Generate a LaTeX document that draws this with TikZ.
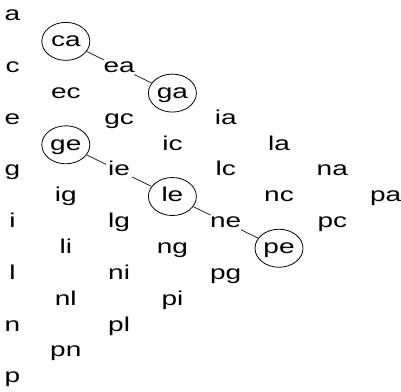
\documentclass[tikz,border=0pt]{standalone}
\usepackage{fontspec}
\newfontfamily\wordfont[FakeStretch=1.4]{Liberation Sans}
\usetikzlibrary{shapes.geometric}

\begin{document}
\begin{tikzpicture}
  [
    x=53.3pt, y=-25.86pt,
    word/.style={
      font=\wordfont\fontsize{20}{24}\selectfont,
      text height=10.4pt, text depth=0pt, inner sep=2pt
    },
    pick/.style={word,ellipse,draw,line width=.8pt,minimum width=48pt,minimum height=38pt,inner sep=0pt},
    link/.style={line width=.8pt,black!85},
  ]
    \useasboundingbox (0pt,0pt) rectangle (401pt,-391pt);
    \begin{scope}[shift={(12.5pt,-15.5pt)}]
    % single letters
    \foreach \t/\r in {a/0,c/2,e/4,g/6,i/8,l/10,n/12,p/14}
      \node [word] (\t) at (0,\r) {\t};
    % pairs
    \foreach \t/\c/\r in {ec/1/3,ig/1/7,li/1/9,nl/1/11,pn/1/13,
        ea/2/2,gc/2/4,ie/2/6,lg/2/8,ni/2/10,pl/2/12,
        ic/3/5,ng/3/9,pi/3/11,
        ia/4/4,lc/4/6,ne/4/8,pg/4/10,
        la/5/5,nc/5/7,na/6/6,pc/6/8,pa/7/7}
      \node [word] (\t) at (\c,\r) {\t};
    % circled pairs
    \foreach \t/\c/\r in {ca/1/1,ga/3/3,ge/1/5,le/3/7,pe/5/9}
      \node [pick] (\t) at (\c,\r) {\t};
    % links
    \foreach \s/\e in {ca/ea,ea/ga,ge/ie,ie/le,le/ne,ne/pe}
      \draw [link] (\s) -- (\e);
    \end{scope}
\end{tikzpicture}
\end{document}
